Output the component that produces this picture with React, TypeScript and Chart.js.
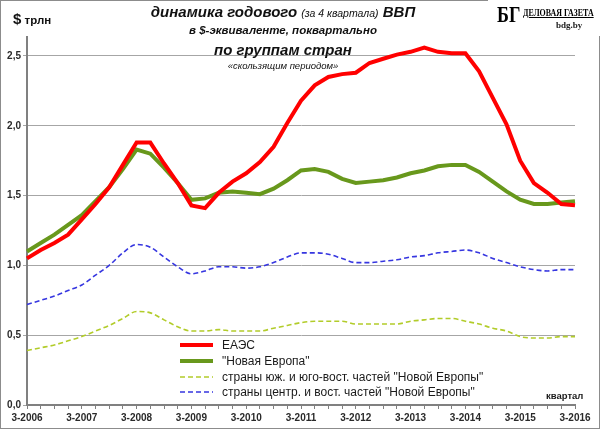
import React, { useEffect, useRef } from "react";
import { Chart, registerables } from "chart.js";

Chart.register(...registerables);

const quarters: string[] = [
  "3-2006", "4-2006", "1-2007", "2-2007", "3-2007", "4-2007", "1-2008", "2-2008",
  "3-2008", "4-2008", "1-2009", "2-2009", "3-2009", "4-2009", "1-2010", "2-2010",
  "3-2010", "4-2010", "1-2011", "2-2011", "3-2011", "4-2011", "1-2012", "2-2012",
  "3-2012", "4-2012", "1-2013", "2-2013", "3-2013", "4-2013", "1-2014", "2-2014",
  "3-2014", "4-2014", "1-2015", "2-2015", "3-2015", "4-2015", "1-2016", "2-2016",
  "3-2016",
];

const eaes: number[] = [
  1.05, 1.11, 1.16, 1.22, 1.33, 1.44, 1.56, 1.72, 1.88, 1.88, 1.73, 1.59, 1.43, 1.41,
  1.52, 1.60, 1.66, 1.74, 1.85, 2.02, 2.18, 2.29, 2.35, 2.37, 2.38, 2.45, 2.48, 2.51,
  2.53, 2.56, 2.53, 2.52, 2.52, 2.39, 2.20, 2.01, 1.75, 1.59, 1.52, 1.44, 1.43,
];

const newEurope: number[] = [
  1.10, 1.16, 1.22, 1.29, 1.36, 1.46, 1.56, 1.69, 1.83, 1.80, 1.70, 1.59, 1.47, 1.48,
  1.52, 1.53, 1.52, 1.51, 1.55, 1.61, 1.68, 1.69, 1.67, 1.62, 1.59, 1.60, 1.61, 1.63,
  1.66, 1.68, 1.71, 1.72, 1.72, 1.67, 1.60, 1.53, 1.47, 1.44, 1.44, 1.45, 1.46,
];

const southEast: number[] = [
  0.39, 0.41, 0.43, 0.46, 0.49, 0.53, 0.57, 0.62, 0.67, 0.66, 0.61, 0.56, 0.53, 0.53,
  0.54, 0.53, 0.53, 0.53, 0.55, 0.57, 0.59, 0.60, 0.60, 0.60, 0.58, 0.58, 0.58, 0.58,
  0.60, 0.61, 0.62, 0.62, 0.60, 0.58, 0.55, 0.53, 0.49, 0.48, 0.48, 0.49, 0.49,
];

const centralEast: number[] = [
  0.72, 0.75, 0.78, 0.82, 0.86, 0.93, 1.00, 1.09, 1.15, 1.13, 1.06, 0.99, 0.94, 0.96,
  0.99, 0.99, 0.98, 0.99, 1.02, 1.06, 1.09, 1.09, 1.08, 1.05, 1.02, 1.02, 1.03, 1.04,
  1.06, 1.07, 1.09, 1.10, 1.11, 1.09, 1.05, 1.02, 0.99, 0.97, 0.96, 0.97, 0.97,
];

const seriesNames: string[] = [
  "ЕАЭС",
  "\"Новая Европа\"",
  "страны юж. и юго-вост. частей \"Новой Европы\"",
  "страны центр. и вост. частей \"Новой Европы\"",
];

const yTicks: number[] = [0, 0.5, 1, 1.5, 2, 2.5];

const legendPlugin = {
  id: "customLegend",
  beforeDraw(chart: any) {
    const ctx = chart.ctx;
    ctx.save();
    ctx.fillStyle = "#ffffff";
    ctx.fillRect(0, 0, chart.width, chart.height);
    ctx.restore();
  },
  afterDraw(chart: any) {
    const ctx = chart.ctx;
    ctx.save();
    const rows = [345, 361, 377, 392];
    chart.data.datasets.forEach((ds: any, i: number) => {
      const y = rows[i];
      ctx.beginPath();
      ctx.strokeStyle = ds.borderColor;
      ctx.lineWidth = ds.legendWidth;
      ctx.setLineDash(ds.borderDash || []);
      ctx.moveTo(180, y);
      ctx.lineTo(213, y);
      ctx.stroke();
      ctx.setLineDash([]);
      ctx.fillStyle = "#1a1a1a";
      ctx.font = "12px 'Liberation Sans'";
      ctx.textBaseline = "middle";
      ctx.textAlign = "left";
      ctx.fillText(ds.label, 222, y + 1);
    });
    ctx.font = "bold 9.5px 'Liberation Sans'";
    ctx.fillStyle = "#1a1a1a";
    ctx.textAlign = "left";
    ctx.textBaseline = "middle";
    ctx.fillText("квартал", 546, 396);
    // frame
    ctx.strokeStyle = "#8c8c8c";
    ctx.lineWidth = 1;
    ctx.strokeRect(0.5, 0.5, chart.width - 1, chart.height - 1);
    ctx.fillStyle = "#ffffff";
    ctx.fillRect(488, 0, chart.width - 488, 36);
    ctx.restore();
  },
};

export default function App() {
  const ref = useRef<HTMLCanvasElement | null>(null);

  useEffect(() => {
    document.body.style.margin = "0";
    if (!ref.current) return;
    const chart = new Chart(ref.current, {
      type: "line",
      data: {
        labels: quarters,
        datasets: [
          {
            label: seriesNames[0],
            data: eaes,
            borderColor: "#ff0000",
            borderWidth: 4,
            pointRadius: 0,
            tension: 0,
            legendWidth: 4,
            order: 1,
          } as any,
          {
            label: seriesNames[1],
            data: newEurope,
            borderColor: "#68981c",
            borderWidth: 4,
            pointRadius: 0,
            tension: 0,
            legendWidth: 4,
            order: 2,
          } as any,
          {
            label: seriesNames[2],
            data: southEast,
            borderColor: "#b2cc2a",
            borderWidth: 1.6,
            borderDash: [5, 3],
            pointRadius: 0,
            cubicInterpolationMode: "monotone",
            legendWidth: 1.6,
            order: 3,
          } as any,
          {
            label: seriesNames[3],
            data: centralEast,
            borderColor: "#3636e0",
            borderWidth: 1.6,
            borderDash: [5, 3],
            pointRadius: 0,
            cubicInterpolationMode: "monotone",
            legendWidth: 1.6,
            order: 4,
          } as any,
        ],
      },
      options: {
        responsive: false,
        animation: false,
        devicePixelRatio: 1,
        layout: { padding: { top: 37, right: 25, left: 0, bottom: 0 } },
        plugins: {
          legend: { display: false },
          title: { display: false },
          tooltip: { enabled: false },
        },
        scales: {
          x: {
            type: "category",
            offset: false,
            grid: {
              display: true,
              drawOnChartArea: false,
              drawTicks: true,
              tickLength: 4,
              color: "#808080",
            },
            border: { color: "#808080", width: 2 },
            ticks: {
              autoSkip: false,
              maxRotation: 0,
              minRotation: 0,
              padding: 3,
              color: "#2a2a2a",
              font: { family: "'Liberation Sans'", size: 10, weight: "bold" },
              callback: (_v: any, i: number) =>
                quarters[i].startsWith("3-") ? quarters[i] : "",
            },
            afterFit: (s: any) => {
              s.height = 24;
            },
          },
          y: {
            min: 0,
            max: 2.636,
            grid: { color: "#a6a6a6", tickLength: 4, lineWidth: 1 },
            border: { color: "#808080", width: 2 },
            afterBuildTicks: (s: any) => {
              s.ticks = yTicks.map((v) => ({ value: v }));
            },
            ticks: {
              padding: 2,
              color: "#2a2a2a",
              font: { family: "'Liberation Sans'", size: 10, weight: "bold" },
              callback: (v: any) => Number(v).toFixed(1).replace(".", ","),
            },
            afterFit: (s: any) => {
              s.width = 27;
            },
          },
        },
      },
      plugins: [legendPlugin],
    });
    return () => chart.destroy();
  }, []);

  const titleBase: React.CSSProperties = {
    position: "absolute",
    left: 0,
    width: 566,
    textAlign: "center",
    fontFamily: "'Liberation Sans', sans-serif",
    fontStyle: "italic",
    fontWeight: "bold",
    color: "#111",
    whiteSpace: "nowrap",
    lineHeight: 1,
  };

  return (
    <div style={{ position: "relative", width: 600, height: 429 }}>
      <canvas ref={ref} width={600} height={429} style={{ display: "block" }} />
      <div style={{ ...titleBase, top: 4, fontSize: 15 }}>
        динамика годового{" "}
        <span style={{ fontSize: 10.5, fontWeight: "normal" }}>(за 4 квартала)</span> ВВП
      </div>
      <div style={{ ...titleBase, top: 25, fontSize: 11.5 }}>в $-эквиваленте, поквартально</div>
      <div style={{ ...titleBase, top: 42, fontSize: 15 }}>по группам стран</div>
      <div style={{ ...titleBase, top: 61, fontSize: 9.5, fontWeight: "normal" }}>
        «скользящим периодом»
      </div>
      <div
        style={{
          position: "absolute",
          left: 13,
          top: 11,
          fontFamily: "'Liberation Sans', sans-serif",
          fontWeight: "bold",
          color: "#111",
          whiteSpace: "nowrap",
          lineHeight: 1,
        }}
      >
        <span style={{ fontSize: 15 }}>$</span>
        <span style={{ fontSize: 11.5 }}> трлн</span>
      </div>
      <div
        style={{
          position: "absolute",
          left: 497,
          top: 2,
          fontFamily: "'Liberation Serif', serif",
          fontWeight: "bold",
          fontSize: 24,
          color: "#000",
          lineHeight: 1,
          transform: "scaleX(0.75)",
          transformOrigin: "left top",
        }}
      >
        БГ
      </div>
      <div
        style={{
          position: "absolute",
          left: 523,
          top: 7,
          fontFamily: "'Liberation Serif', serif",
          fontWeight: "bold",
          fontSize: 11,
          color: "#000",
          lineHeight: 1,
          textDecoration: "underline",
          whiteSpace: "nowrap",
          transform: "scaleX(0.72)",
          transformOrigin: "left top",
        }}
      >
        ДЕЛОВАЯ ГАЗЕТА
      </div>
      <div
        style={{
          position: "absolute",
          left: 556,
          top: 21,
          fontFamily: "'Liberation Serif', serif",
          fontWeight: "bold",
          fontSize: 9,
          color: "#222",
          lineHeight: 1,
          whiteSpace: "nowrap",
        }}
      >
        bdg.by
      </div>
    </div>
  );
}
